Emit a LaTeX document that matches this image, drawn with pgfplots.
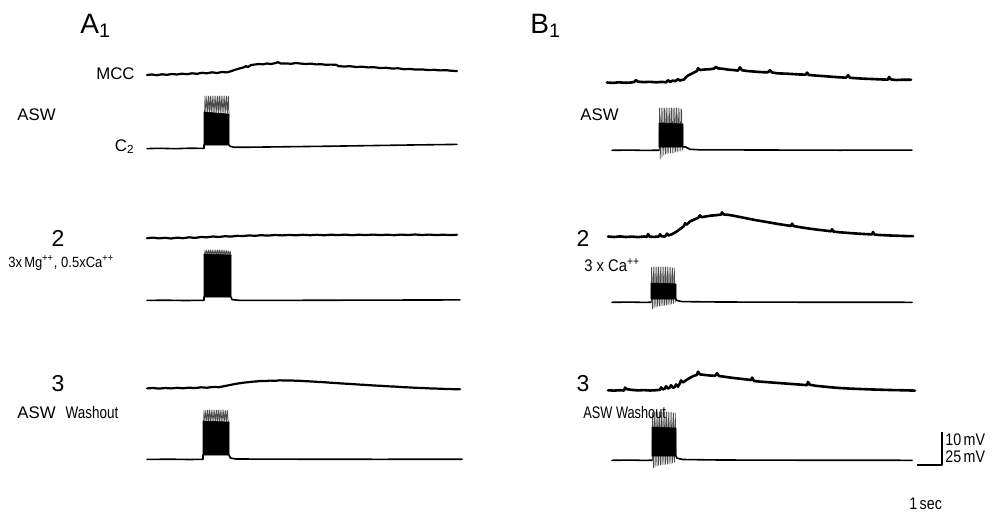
\documentclass[border=0pt]{standalone}
\usepackage{fontspec}
\setmainfont{Liberation Sans}
\usepackage{graphicx}
\usepackage{pgfplots}
\pgfplotsset{compat=1.18}

\tikzset{
  lab/.style={font=\fontsize{8.4}{10}\selectfont, inner sep=0pt},
  num/.style={font=\fontsize{11.5}{13}\selectfont, inner sep=0pt},
  big/.style={font=\fontsize{14}{16}\selectfont, inner sep=0pt},
}

\begin{document}
\begin{tikzpicture}
\begin{axis}[
  width=502pt, height=257pt, scale only axis,
  xmin=0, xmax=1004, ymin=0, ymax=514, y dir=reverse,
  axis lines=none, clip=false,
  every axis plot/.append style={line join=round, line cap=round},
]
% frame of the picture, not drawn
\addplot[draw=none] coordinates {(0,0)(1004,514)};

% ---------------- column A ----------------
% row 1, MCC
\addplot[line width=1.1pt] coordinates {
 (147,75)(152,74.5)(157,75.2)(162,74.3)(167,74.8)(172,74)(177,74.5)(182,73.7)(187,74.2)(192,73.3)
 (197,73.8)(202,72.8)(207,73.3)(212,72.3)(217,73)(222,72)(227,72.4)(231,71.2)(235,69.8)(239,68.6)
 (243,67.6)(246,66.2)(248,67)(251,65)(255,64.5)(259,64)(263,64.4)(267,63.5)(271,64)(275,63.2)
 (278,62.2)(281,63.6)(286,63.4)(291,63.8)(296,63)(301,63.6)(306,64)(311,63.6)(316,64.4)(321,64.2)
 (326,64.8)(331,64.6)(336,64.8)(339,66.2)(344,66.5)(350,66.2)(356,67)(362,66.7)(368,67.4)(374,67.2)
 (380,68)(386,67.8)(392,68.5)(398,68.3)(404,69.2)(410,69)(416,69.6)(422,69.4)(428,70)(434,69.8)
 (440,70.4)(446,70.2)(452,70.8)(457,71)
};
% row 1, C2
\addplot[line width=0.8pt] coordinates {
 (147,148.6)(160,148.3)(175,148.7)(190,148.2)(204,148.4)(204,145)
};
\addplot[line width=0.8pt] coordinates {
 (229,145)(230.5,146.4)(234,147.2)(250,147.2)(290,146.7)(330,146.2)(370,145.6)(410,145)(457,144.4)
};
\addplot[black!70, line width=0.35pt] coordinates {
 (204.5,113)(205,96)(205.9,113)(206.8,96)(207.7,113)(208.6,96)(209.5,113)(210.4,96)(211.3,113)(212.2,96)
 (213.1,113)(214,96)(214.9,113)(215.8,96)(216.7,113)(217.6,96)(218.5,113)(219.4,96)(220.3,113)(221.2,96)
 (222.1,113)(223,96)(223.9,113)(224.8,96)(225.7,113)(226.6,96)(227.5,113)(228.4,96)(229,114)
};
\addplot[fill=black, draw=black, line width=0.3pt] coordinates {
 (204,145)(204,112)(216,113)(229,114)(229,145)} -- cycle;

% row 2, MCC
\addplot[line width=1.1pt] coordinates {
 (147,238.2)(153,237.6)(159,238.4)(165,237.8)(171,238.5)(177,237.6)(183,238.2)(189,237.3)(195,237.9)(201,237)
 (207,237.3)(213,236.5)(219,237)(225,236.2)(231,236.6)(237,235.8)(243,236.1)(249,235.4)(255,235.8)(261,235.2)
 (268,235.6)(275,235)(282,235.4)(289,234.9)(296,235.3)(303,234.8)(310,235.2)(317,234.8)(324,235.3)(331,234.7)
 (338,235.1)(345,234.6)(352,235.2)(359,234.7)(366,235.1)(373,234.6)(380,235.1)(387,234.7)(394,235.2)(401,234.6)
 (408,235)(415,234.5)(422,235)(429,234.6)(436,235.1)(443,234.7)(450,235.1)(457,234.8)
};
% row 2, C2
\addplot[line width=0.8pt] coordinates {
 (147,300.4)(165,300.2)(185,300.5)(204,300.3)(204,297)
};
\addplot[line width=0.8pt] coordinates {
 (231,297)(232,299.6)(240,300.4)(300,300.3)(380,300.1)(460,299.9)
};
\addplot[black!70, line width=0.35pt] coordinates {
 (204.5,255)(205,250)(205.9,255)(206.8,250)(207.7,255)(208.6,250)(209.5,255)(210.4,250)(211.3,255)(212.2,250)
 (213.1,255)(214,250)(214.9,255)(215.8,250)(216.7,255)(217.6,250)(218.5,255)(219.4,250)(220.3,255)(221.2,250)
 (222.1,255)(223,250)(223.9,255)(224.8,250.5)(225.7,255)(226.6,250.5)(227.5,255)(228.4,251)(229.3,255)(230.2,251)(231,256)
};
\addplot[fill=black, draw=black, line width=0.3pt] coordinates {
 (204,297)(204,254)(231,255)(231,297)} -- cycle;

% row 3, MCC
\addplot[line width=1.1pt] coordinates {
 (147,388.4)(153,388)(159,388.6)(165,388)(171,388.4)(177,387.8)(183,388.3)(189,387.6)(195,388.1)(201,387.3)
 (207,387.7)(213,386.9)(219,387.2)(224,386.2)(228,385.4)(232,384.6)(236,383.8)(240,383.2)(244,382.6)(248,382.2)
 (252,381.7)(256,381.5)(260,381)(265,381.1)(270,380.6)(275,380.8)(280,380.3)(285,380.6)(290,380.4)(295,380.7)
 (300,380.8)(306,381.2)(312,381.5)(318,381.9)(324,382.2)(330,382.7)(336,383)(342,383.5)(348,383.8)(354,384.2)
 (360,384.6)(367,385)(374,385.5)(381,385.8)(388,386.3)(395,386.6)(402,387.1)(409,387.4)(416,387.8)(423,388)
 (430,388.4)(437,388.6)(444,388.9)(451,389.1)(460,389.3)
};
% row 3, C2
\addplot[line width=0.8pt] coordinates {
 (147,459.4)(170,459.2)(190,459.5)(203,459.3)(203,455)
};
\addplot[line width=0.8pt] coordinates {
 (229,455)(230.5,458)(236,459)(300,459.2)(380,459.3)(462,459.2)
};
\addplot[black!70, line width=0.35pt] coordinates {
 (203.5,422)(204,410.5)(204.9,422)(205.8,410)(206.7,422)(207.6,410)(208.5,422)(209.4,410)(210.3,422)(211.2,410)
 (212.1,422)(213,410)(213.9,422)(214.8,410)(215.7,422)(216.6,410)(217.5,422)(218.4,410)(219.3,422)(220.2,410)
 (221.1,422)(222,410)(222.9,422)(223.8,410)(224.7,422)(225.6,410.5)(226.5,422)(227.4,410.5)(228.3,422)(229,423)
};
\addplot[fill=black, draw=black, line width=0.3pt] coordinates {
 (203,455)(203,421)(229,422)(229,455)} -- cycle;

% ---------------- column B ----------------
% row 1, MCC
\addplot[line width=1.3pt] coordinates {
 (607,82.5)(613,82.9)(619,82.3)(625,82.8)(631,82.5)(634,82)(636,80.2)(638,81.7)(644,82.1)(650,81.8)
 (656,82.3)(662,81.9)(666,82.3)(668,80.2)(670,81.9)(673,80.5)(675,81.2)(678,79.3)(680,80.5)(684,79.5)
 (686,77.2)(688,75.5)(691,74)(694,72.5)(697,71)(698,68.2)(700,70)(705,69.5)(710,69.2)(714,68.6)
 (716,66.8)(718,68.4)(723,68.8)(728,69.6)(733,70)(738,70.6)(740,67.3)(742,70.2)(747,71)(752,71.4)
 (757,71.8)(764,72.3)(768,72.2)(770,70.2)(772,72.5)(778,73.4)(785,73.6)(792,74)(800,74.5)(806,74.6)
 (807,72.6)(809,75)(815,75.5)(822,76)(830,76.6)(838,77.2)(846,77.7)(848,75.2)(850,77.8)(857,78.3)
 (864,78.7)(872,79)(880,79.4)(888,79.6)(889,77)(891,79.4)(896,80)(901,79.8)(906,79.7)(911,79.8)
};
% row 1, C2
\addplot[line width=0.8pt] coordinates {
 (612,150.3)(630,150.1)(645,150.4)(659,150.2)
};
\addplot[line width=0.8pt] coordinates {
 (683,147)(685,146.7)(690,149.3)(700,149.8)(760,150)(840,150.2)(912,150.1)
};
\addplot[black!70, line width=0.35pt] coordinates {
 (659.2,150)(659.5,108)(660.3,159)(661.2,108)(662,157)(662.9,108)(663.7,155)(664.6,108)(665.4,154)(666.3,108)
 (667.1,154)(668,108)(668.8,153)(669.7,108)(670.5,153)(671.4,108)(672.2,153)(673.1,108)(673.9,153)(674.8,108)
 (675.6,152)(676.5,108)(677.3,152)(678.2,108)(679,151)(679.9,109)(680.7,151)(681.6,109)(682.4,150)(683,147)
};
\addplot[fill=black, draw=black, line width=0.3pt] coordinates {
 (659,147)(659,123)(683,124)(683,147)} -- cycle;

% row 2, MCC
\addplot[line width=1.3pt] coordinates {
 (608,236.5)(614,237)(620,236.4)(626,237)(632,236.6)(638,237.1)(644,236.5)(647,236.8)(648,234)(649.5,236.6)
 (654,236.9)(659,236.4)(660,234.2)(661.5,236.2)(665,236.6)(667,233.6)(668.5,235.5)(672,234.2)(676,232)(680,229)
 (684,226)(685,223.2)(686.5,224.8)(690,221.5)(694,219.6)(698,218)(700,215.4)(701.5,217.2)(706,216.4)(711,215.6)
 (716,215.2)(721,214.6)(722,212.4)(723.5,214.4)(728,214.8)(733,215.6)(738,216.6)(744,217.8)(750,219)(756,220.2)
 (762,221.2)(768,222.2)(774,223.3)(780,224.3)(786,225.2)(791,226)(792,223.6)(793.5,226)(800,227.2)(808,228.4)
 (816,229.5)(824,230.4)(831,231.3)(832,229.2)(833.5,231.6)(840,232.3)(848,232.9)(856,233.5)(864,234)(872,234.4)
 (873,232)(874.5,234.6)(880,235)(888,235.4)(896,235.7)(904,236)(913,236.2)
};
% row 2, C2
\addplot[line width=0.8pt] coordinates {
 (612,302.3)(630,302.1)(645,302.4)(651,302.2)
};
\addplot[line width=0.8pt] coordinates {
 (676,299)(677,300.5)(682,301.6)(720,302)(800,302.2)(912,302.3)
};
\addplot[black!70, line width=0.35pt] coordinates {
 (651.2,302)(651.5,267.5)(652.4,309)(653.3,267)(654.1,308)(655,267)(655.9,307)(656.8,267)(657.6,306.5)(658.5,267)
 (659.4,306)(660.3,267)(661.1,306)(662,267)(662.9,305.5)(663.8,267)(664.6,305.5)(665.5,267)(666.4,305)(667.3,267)
 (668.1,305)(669,267.5)(669.9,304.5)(670.8,267.5)(671.6,304)(672.5,268)(673.4,303.5)(674.3,268)(675.2,302)(676,299)
};
\addplot[fill=black, draw=black, line width=0.3pt] coordinates {
 (651,299)(651,283)(676,284)(676,299)} -- cycle;

% row 3, MCC
\addplot[line width=1.3pt] coordinates {
 (608,390.3)(614,390.6)(620,390.2)(624,390.5)(625,387.6)(627,389.2)(632,389.9)(638,390.4)(644,390.1)(650,390.5)
 (656,390.2)(660,389.8)(661,387.4)(663,389.4)(665,388.4)(666,386.2)(668,388.6)(670,387.2)(671,385.2)(673,387.8)
 (675,386.8)(676,384.4)(678,386.6)(680,383)(681,380.4)(683,382.4)(687,379.6)(691,377.2)(694,375.8)(697,374.8)
 (698,371.6)(700,374.4)(705,375)(710,375.5)(715,375.8)(717,373.2)(719,376)(725,376.8)(732,377.8)(739,378.6)
 (746,379.4)(751,380)(752,377.6)(754,381)(760,381.6)(768,382.2)(776,382.8)(784,383.4)(792,384)(800,384.6)
 (807,385.1)(808,382)(810,384.8)(816,385.8)(824,386.6)(832,387.4)(840,388)(850,388.6)(860,389)(870,389.4)
 (880,389.7)(890,390)(900,390.2)(908,390.4)(915,390.6)
};
% row 3, C2
\addplot[line width=0.8pt] coordinates {
 (612,460.3)(630,460.1)(645,460.4)(652,460.2)
};
\addplot[line width=0.8pt] coordinates {
 (676,456)(677,458.2)(683,459.5)(720,460)(800,460.2)(912,460.3)
};
\addplot[black!70, line width=0.35pt] coordinates {
 (652.2,460)(652.5,412.5)(653.4,468)(654.3,412)(655.1,467)(656,412)(656.9,466)(657.8,412)(658.6,465.5)(659.5,412)
 (660.4,465)(661.3,412)(662.1,465)(663,412)(663.9,464.5)(664.8,412)(665.6,464.5)(666.5,412)(667.4,464)(668.3,412)
 (669.1,464)(670,412.5)(670.9,463.5)(671.8,412.5)(672.6,463)(673.5,413)(674.4,462)(675.3,413)(676,456)
};
\addplot[fill=black, draw=black, line width=0.3pt] coordinates {
 (652,456)(652,427)(676,428)(676,456)} -- cycle;

% scale bars
\addplot[line width=0.9pt, line cap=butt] coordinates {(917,465)(942,465)(942,432)};

% labels
\node[big, anchor=base west] at (80,33) {A\textsubscript{1}};
\node[big, anchor=base west] at (530,33) {B\textsubscript{1}};

\node[lab, anchor=east] at (135,74) {MCC};
\node[lab, anchor=west] at (17,115) {ASW};
\node[lab, anchor=base east] at (135,151) {C\textsubscript{2}};
\node[num] at (58,238) {2};
\node[lab, anchor=west] at (8,263) {\scalebox{0.88}[1]{\fontsize{7.4}{9}\selectfont 3x\,Mg\textsuperscript{++}, 0.5xCa\textsuperscript{++}}};
\node[num] at (58,384) {3};
\node[lab, anchor=west] at (17,412) {ASW\hspace{0.6em}\scalebox{0.8}[1]{Washout}};

\node[lab, anchor=west] at (580,115) {ASW};
\node[num] at (583,238) {2};
\node[lab, anchor=west] at (584,265) {\scalebox{0.88}[1]{3 x Ca\textsuperscript{++}}};
\node[num] at (583,384) {3};
\node[lab, anchor=west] at (583,412) {\scalebox{0.76}[1]{ASW Washout}};

\node[lab, anchor=west] at (945,440) {\scalebox{0.85}[1]{10\,mV}};
\node[lab, anchor=west] at (945,457) {\scalebox{0.85}[1]{25\,mV}};
\node[lab, anchor=base west] at (909,509) {\scalebox{0.85}[1]{1\,sec}};
\end{axis}
\end{tikzpicture}
\end{document}
